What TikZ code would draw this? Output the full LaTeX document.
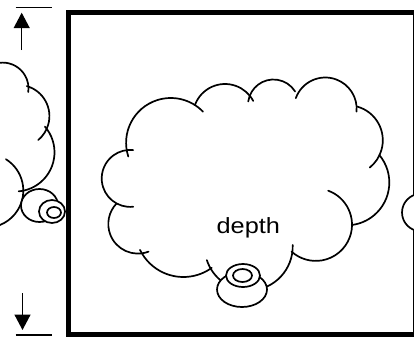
\documentclass[tikz,border=0pt]{standalone}
\usepackage{fontspec}
\setmainfont{Liberation Sans}
\usetikzlibrary{arrows.meta}
\newcommand\puffarc[5]{\draw[cloudline] ({#1+#3*cos(#4)},{#2+#3*sin(#4)}) arc[start angle=#4,end angle=#5,radius=#3];}
\tikzset{
  cloudline/.style={line width=1.7pt, line cap=round},
  framebox/.style={line width=5pt},
  dimline/.style={line width=1.2pt},
  dimarrow/.style={line width=1.5pt, -{Triangle[width=16pt,length=15.5pt]}},
  donut/.style={line width=1.7pt, fill=white}
}
\begin{document}
\begin{tikzpicture}[x=1pt,y=-1pt]
\useasboundingbox (0,0) rectangle (414,337);
\clip (0,0) rectangle (414,337);
% frame
\draw[framebox] (68.2,12.5) rectangle (415.5,334);
% dimension marks
\coordinate (topl) at (15.7,7.7);
\coordinate (topr) at (52.3,7.7);
\coordinate (botl) at (15.7,335);
\coordinate (botr) at (52.3,335);
\coordinate (upa) at (21.7,50);
\coordinate (upb) at (21.7,12.7);
\coordinate (dna) at (22.5,293);
\coordinate (dnb) at (22.5,330);
\draw[dimline] (topl) -- (topr);
\draw[dimline] (botl) -- (botr);
\draw[dimarrow] (upa) -- (upb);
\draw[dimarrow] (dna) -- (dnb);
% main cloud
\puffarc{170.8}{142.7}{44.7}{162}{316}
\puffarc{225}{116}{32}{200}{332}
\puffarc{273.5}{105}{25.5}{188}{328}
\puffarc{325.3}{108.9}{31.4}{200}{365}
\puffarc{347.8}{140.3}{35}{-74}{51}
\puffarc{346.5}{182.5}{42.8}{-40}{83}
\puffarc{315.8}{224.7}{36.2}{-70}{132}
\puffarc{248.7}{246.5}{44}{-2}{162}
\puffarc{183.4}{228.7}{48.3}{54}{154}
\puffarc{137.9}{224}{29.6}{69}{224}
\puffarc{130.2}{178.4}{28.5}{84}{276}
% main donut
\draw[donut] (242,289.5) ellipse[x radius=25,y radius=17.5];
\draw[donut] (243,275.5) ellipse[x radius=17,y radius=11.5];
\draw[donut] (242.5,275.5) ellipse[x radius=9.5,y radius=6.5];
% left cloud
\puffarc{2.7}{88.4}{25.8}{180}{368}
\puffarc{18.2}{116.1}{31.2}{-74}{50}
\puffarc{15.3}{152.3}{39.2}{-41}{85}
\puffarc{-13.7}{190.6}{37}{-58}{90}
% left donut
\draw[donut] (39.5,205.5) ellipse[x radius=18.5,y radius=16.5];
\draw[donut] (52,211.5) ellipse[x radius=13,y radius=11.5];
\draw[donut] (54,212.5) ellipse[x radius=7,y radius=5.5];
% right cloud
\fill[white] (420.7,212.5) circle[radius=18.7];
\puffarc{420.7}{212.5}{18.7}{90}{270}
% label
\node[anchor=base, inner sep=0pt, font=\fontsize{22pt}{26pt}\selectfont] (lbl) at (248.3,233.3) {\scalebox{1.15}[1]{depth}};
\end{tikzpicture}
\end{document}
